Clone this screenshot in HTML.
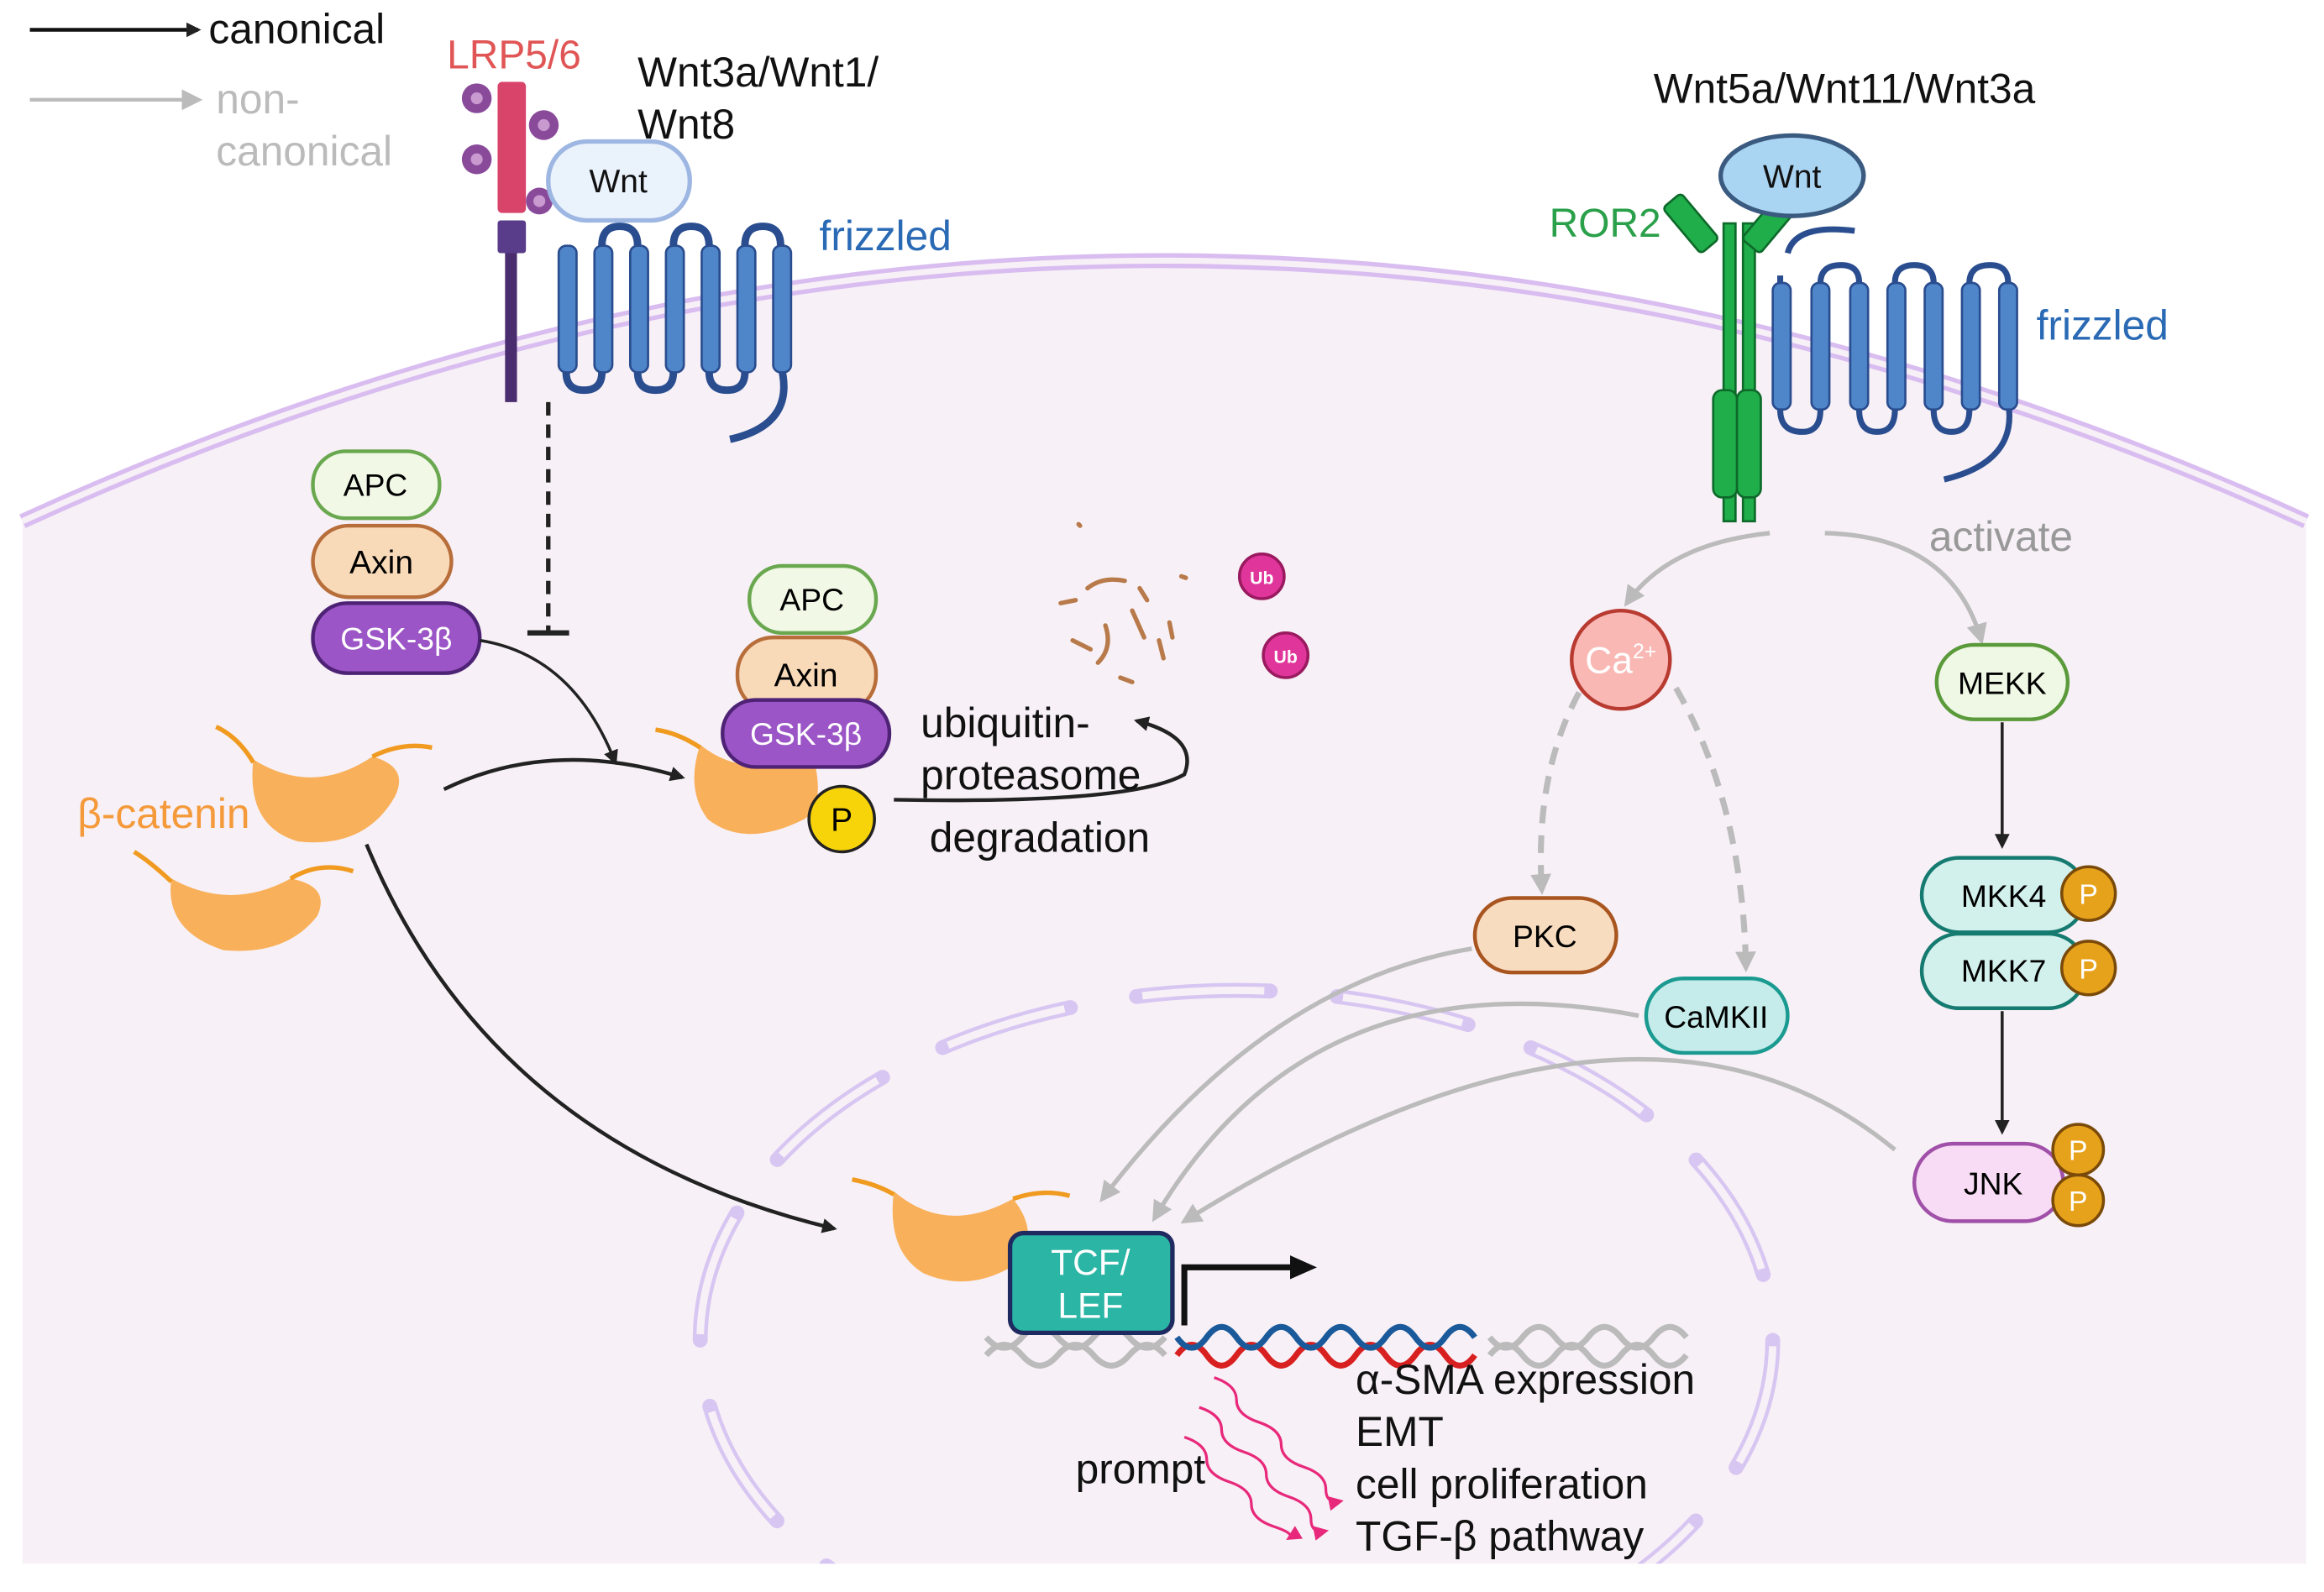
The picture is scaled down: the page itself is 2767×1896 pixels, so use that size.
<!DOCTYPE html>
<html><head><meta charset="utf-8"><style>
html,body{margin:0;padding:0;background:#fff;width:2767px;height:1896px;overflow:hidden}
svg{display:block}
text{font-family:"Liberation Sans",sans-serif}
</style></head><body>
<svg width="2767" height="1896" viewBox="0 0 1560 1069" xmlns="http://www.w3.org/2000/svg">
<defs>
<marker id="ab" markerWidth="10" markerHeight="10" refX="8" refY="5" orient="auto" markerUnits="userSpaceOnUse"><path d="M0,0 L10,5 L0,10 z" fill="#222"/></marker>
<marker id="ag" markerWidth="14" markerHeight="14" refX="11" refY="7" orient="auto" markerUnits="userSpaceOnUse"><path d="M0,0 L14,7 L0,14 z" fill="#bbb"/></marker>
<marker id="ap" markerWidth="10" markerHeight="10" refX="8" refY="5" orient="auto" markerUnits="userSpaceOnUse"><path d="M0,0 L10,5 L0,10 z" fill="#e8287a"/></marker>
<marker id="abig" markerWidth="20" markerHeight="20" refX="4" refY="10" orient="auto" markerUnits="userSpaceOnUse"><path d="M0,2 L18,10 L0,18 z" fill="#111"/></marker>
</defs>
<path d="M15,350 Q780,0 1548,350 L1548,1050 L15,1050 z" fill="#f7f0f6"/>
<path d="M15,350 Q780,0 1548,350" fill="none" stroke="#d9bdf0" stroke-width="10"/>
<path d="M15,350 Q780,0 1548,350" fill="none" stroke="#f7f0f6" stroke-width="4"/>
<ellipse cx="830" cy="900" rx="360" ry="235" fill="none" stroke="#d8c6f2" stroke-width="10" stroke-dasharray="90 45" stroke-linecap="round"/>
<ellipse cx="830" cy="900" rx="360" ry="235" fill="none" stroke="#f7f0f6" stroke-width="5" stroke-dasharray="82 53" stroke-dashoffset="-4"/>
<rect x="0" y="1050" width="1560" height="19" fill="#fff"/>

<line x1="20" y1="20" x2="133" y2="20" stroke="#111" stroke-width="2.5" marker-end="url(#ab)"/>
<text x="140" y="29" font-size="28" fill="#111">canonical</text>
<line x1="20" y1="67" x2="133" y2="67" stroke="#bbb" stroke-width="2.5" marker-end="url(#ag)"/>
<text x="145" y="76" font-size="28" fill="#bbb">non-</text>
<text x="145" y="111" font-size="28" fill="#bbb">canonical</text>

<text x="300" y="46" font-size="27" fill="#e05555">LRP5/6</text>
<line x1="343" y1="150" x2="343" y2="270" stroke="#4a2d6e" stroke-width="8"/>
<rect x="334" y="55" width="19" height="88" rx="3" fill="#d9446b"/>
<rect x="334" y="148" width="19" height="22" rx="2" fill="#5a3d8a"/>
<g fill="#8a4a9a">
<circle cx="320" cy="66" r="10"/><circle cx="365" cy="84" r="10"/><circle cx="320" cy="107" r="10"/><circle cx="362" cy="135" r="9"/>
</g>
<g fill="#c89ad0"><circle cx="320" cy="66" r="4"/><circle cx="365" cy="84" r="4"/><circle cx="320" cy="107" r="4"/><circle cx="362" cy="135" r="4"/></g>
<text x="428" y="58" font-size="28" fill="#111">Wnt3a/Wnt1/</text>
<text x="428" y="93" font-size="28" fill="#111">Wnt8</text>
<path d="M380,165 L380,250 Q380,262 392,262 Q404,262 404,250 L404,165 Q404,152 416,152 Q428,152 428,165 L428,250 Q428,262 440,262 Q452,262 452,250 L452,165 Q452,152 464,152 Q476,152 476,165 L476,250 Q476,262 488,262 Q500,262 500,250 L500,165 Q500,152 512,152 Q524,152 524,165 L524,245 Q535,285 490,295" fill="none" stroke="#2a4d8f" stroke-width="5"/>
<g fill="#4f86c9" stroke="#2a4d8f" stroke-width="1.5">
<rect x="375" y="165" width="12" height="85" rx="5"/><rect x="399" y="165" width="12" height="85" rx="5"/><rect x="423" y="165" width="12" height="85" rx="5"/><rect x="447" y="165" width="12" height="85" rx="5"/><rect x="471" y="165" width="12" height="85" rx="5"/><rect x="495" y="165" width="12" height="85" rx="5"/><rect x="519" y="165" width="12" height="85" rx="5"/>
</g>
<rect x="368" y="95" width="95" height="53" rx="26" fill="#eaf2fc" stroke="#9db7e2" stroke-width="3"/>
<text x="415" y="129" font-size="22" text-anchor="middle" fill="#111">Wnt</text>
<text x="550" y="168" font-size="28" fill="#2a6ab5">frizzled</text>

<text x="1110" y="69" font-size="28" fill="#111">Wnt5a/Wnt11/Wnt3a</text>
<text x="1040" y="159" font-size="27" fill="#2aa04a">ROR2</text>
<g fill="#1fae4a" stroke="#0e6a2a" stroke-width="1.5">
<rect x="1157" y="150" width="8" height="200"/><rect x="1170" y="150" width="8" height="200"/>
<rect x="1150" y="262" width="16" height="72" rx="6"/><rect x="1166" y="262" width="16" height="72" rx="6"/>
<rect x="1127" y="130" width="16" height="40" rx="3" transform="rotate(-40 1135 150)"/>
<rect x="1180" y="130" width="16" height="40" rx="3" transform="rotate(40 1188 150)"/>
</g>
<path d="M1195,185 L1195,275 Q1195,290 1210,290 Q1222,290 1222,275 L1222,190 Q1222,178 1236,178 Q1248,178 1248,190 L1248,275 Q1248,290 1260,290 Q1272,290 1272,275 L1272,190 Q1272,178 1285,178 Q1298,178 1298,190 L1298,275 Q1298,290 1310,290 Q1322,290 1322,275 L1322,190 Q1322,178 1336,178 Q1348,178 1348,190 L1348,270 Q1355,310 1305,322" fill="none" stroke="#2a4d8f" stroke-width="4"/>
<path d="M1200,170 Q1205,150 1245,155" fill="none" stroke="#2a4d8f" stroke-width="4"/>
<g fill="#4f86c9" stroke="#2a4d8f" stroke-width="1.5">
<rect x="1190" y="190" width="12" height="85" rx="5"/><rect x="1216" y="190" width="12" height="85" rx="5"/><rect x="1242" y="190" width="12" height="85" rx="5"/><rect x="1267" y="190" width="12" height="85" rx="5"/><rect x="1292" y="190" width="12" height="85" rx="5"/><rect x="1317" y="190" width="12" height="85" rx="5"/><rect x="1342" y="190" width="12" height="85" rx="5"/>
</g>
<ellipse cx="1203" cy="118" rx="48" ry="27" fill="#a9d4f2" stroke="#3a5a80" stroke-width="3"/>
<text x="1203" y="126" font-size="22" text-anchor="middle" fill="#111">Wnt</text>
<text x="1367" y="228" font-size="28" fill="#2a6ab5">frizzled</text>

<rect x="210" y="303" width="85" height="45" rx="22" fill="#f1f8e6" stroke="#6aa84f" stroke-width="2.5"/>
<text x="252" y="333" font-size="21" text-anchor="middle">APC</text>
<rect x="210" y="353" width="93" height="48" rx="24" fill="#f8d9b8" stroke="#b86e3a" stroke-width="2.5"/>
<text x="256" y="385" font-size="22" text-anchor="middle">Axin</text>
<rect x="210" y="405" width="112" height="47" rx="23" fill="#9b55c6" stroke="#4e2275" stroke-width="2.5"/>
<text x="266" y="436" font-size="21" text-anchor="middle" fill="#fff">GSK-3β</text>
<line x1="368" y1="270" x2="368" y2="424" stroke="#222" stroke-width="3" stroke-dasharray="9 6"/>
<line x1="354" y1="425" x2="382" y2="425" stroke="#222" stroke-width="3.5"/>
<path d="M322,430 Q385,440 413,512" fill="none" stroke="#222" stroke-width="2" marker-end="url(#ab)"/>

<g fill="#f9b05a">
<path d="M170,510 Q210,535 250,508 Q275,515 265,535 Q245,570 200,565 Q165,555 170,510z"/>
<path d="M115,590 Q155,612 195,590 Q222,595 213,615 Q192,642 150,638 Q110,625 115,590z"/>
<path d="M470,500 Q500,525 545,505 Q555,540 540,550 Q500,570 475,550 Q460,530 470,500z"/>
<path d="M600,800 Q635,830 680,805 Q700,830 680,850 Q650,868 620,855 Q595,840 600,800z"/>
</g>
<g fill="none" stroke="#f09a20" stroke-width="3">
<path d="M170,512 Q160,495 145,488"/><path d="M250,508 Q270,498 290,502"/>
<path d="M115,592 Q100,578 90,572"/><path d="M195,590 Q215,578 237,585"/>
<path d="M470,502 Q455,492 440,490"/>
<path d="M600,802 Q588,795 572,792"/><path d="M680,805 Q700,798 718,803"/>
</g>
<text x="52" y="556" font-size="28" fill="#f59a3a">β-catenin</text>
<path d="M298,530 Q370,495 458,522" fill="none" stroke="#222" stroke-width="2.5" marker-end="url(#ab)"/>
<path d="M246,567 Q330,770 560,825" fill="none" stroke="#222" stroke-width="2.5" marker-end="url(#ab)"/>

<rect x="503" y="380" width="85" height="45" rx="22" fill="#f1f8e6" stroke="#6aa84f" stroke-width="2.5"/>
<text x="545" y="410" font-size="21" text-anchor="middle">APC</text>
<rect x="495" y="428" width="93" height="50" rx="24" fill="#f8d9b8" stroke="#b86e3a" stroke-width="2.5"/>
<text x="541" y="461" font-size="22" text-anchor="middle">Axin</text>
<rect x="485" y="470" width="112" height="45" rx="22" fill="#9b55c6" stroke="#4e2275" stroke-width="2.5"/>
<text x="541" y="500" font-size="21" text-anchor="middle" fill="#fff">GSK-3β</text>
<circle cx="565" cy="550" r="22" fill="#f7d40a" stroke="#222" stroke-width="2"/>
<text x="565" y="558" font-size="22" text-anchor="middle">P</text>
<path d="M600,537 Q760,540 795,520 Q805,495 763,484" fill="none" stroke="#222" stroke-width="2.5" marker-end="url(#ab)"/>
<text x="618" y="495" font-size="28" fill="#111">ubiquitin-</text>
<text x="618" y="530" font-size="28" fill="#111">proteasome</text>
<text x="624" y="572" font-size="28" fill="#111">degradation</text>
<g stroke="#b87a4a" stroke-width="3" fill="none" stroke-linecap="round">
<path d="M712,405 l10,-2"/><path d="M730,395 q10,-8 25,-5"/><path d="M742,420 q5,15 -5,25"/><path d="M760,410 l8,18"/><path d="M778,430 l3,12"/><path d="M785,418 l2,10"/><path d="M720,430 l12,6"/><path d="M752,455 l8,3"/><path d="M765,395 l5,8"/><path d="M793,387 l3,1"/><path d="M724,352 l1,1"/>
</g>
<circle cx="847" cy="387" r="15" fill="#e0359a" stroke="#9a1a60" stroke-width="2"/>
<text x="847" y="392" font-size="12" font-weight="bold" text-anchor="middle" fill="#fff">Ub</text>
<circle cx="863" cy="440" r="15" fill="#e0359a" stroke="#9a1a60" stroke-width="2"/>
<text x="863" y="445" font-size="12" font-weight="bold" text-anchor="middle" fill="#fff">Ub</text>

<path d="M1188,358 Q1120,365 1092,405" fill="none" stroke="#bbb" stroke-width="3" marker-end="url(#ag)"/>
<path d="M1225,358 Q1310,360 1330,430" fill="none" stroke="#bbb" stroke-width="3" marker-end="url(#ag)"/>
<text x="1295" y="370" font-size="28" fill="#999">activate</text>
<circle cx="1088" cy="443" r="33" fill="#f9b8b4" stroke="#b83a30" stroke-width="2.5"/>
<text x="1088" y="452" font-size="25" text-anchor="middle" fill="#fff">Ca<tspan font-size="14" dy="-10">2+</tspan></text>
<path d="M1060,465 Q1030,520 1035,598" fill="none" stroke="#bbb" stroke-width="4" stroke-dasharray="12 8" marker-end="url(#ag)"/>
<path d="M1125,462 Q1170,540 1172,650" fill="none" stroke="#bbb" stroke-width="4" stroke-dasharray="12 8" marker-end="url(#ag)"/>
<rect x="990" y="603" width="95" height="50" rx="25" fill="#f8dcc0" stroke="#a8551f" stroke-width="2.5"/>
<text x="1037" y="636" font-size="21" text-anchor="middle">PKC</text>
<rect x="1105" y="657" width="95" height="50" rx="25" fill="#c5ecea" stroke="#1a9a90" stroke-width="2.5"/>
<text x="1152" y="690" font-size="21" text-anchor="middle">CaMKII</text>
<rect x="1300" y="433" width="88" height="50" rx="25" fill="#eef8e4" stroke="#5a9a3a" stroke-width="2.5"/>
<text x="1344" y="466" font-size="21" text-anchor="middle">MEKK</text>
<line x1="1344" y1="485" x2="1344" y2="568" stroke="#222" stroke-width="2" marker-end="url(#ab)"/>
<rect x="1290" y="576" width="110" height="50" rx="25" fill="#d2f0ec" stroke="#157a70" stroke-width="2.5"/>
<text x="1345" y="609" font-size="21" text-anchor="middle">MKK4</text>
<rect x="1290" y="627" width="110" height="50" rx="25" fill="#d2f0ec" stroke="#157a70" stroke-width="2.5"/>
<text x="1345" y="659" font-size="21" text-anchor="middle">MKK7</text>
<line x1="1344" y1="679" x2="1344" y2="760" stroke="#222" stroke-width="2" marker-end="url(#ab)"/>
<rect x="1285" y="768" width="100" height="52" rx="26" fill="#f8dcf5" stroke="#a050a8" stroke-width="2.5"/>
<text x="1338" y="802" font-size="21" text-anchor="middle">JNK</text>
<g fill="#e7a21b" stroke="#7a4a0a" stroke-width="2">
<circle cx="1402" cy="600" r="18"/><circle cx="1402" cy="650" r="18"/><circle cx="1395" cy="772" r="17"/><circle cx="1395" cy="806" r="17"/>
</g>
<g font-size="19" text-anchor="middle" fill="#fff"><text x="1402" y="607">P</text><text x="1402" y="657">P</text><text x="1395" y="779">P</text><text x="1395" y="813">P</text></g>
<path d="M988,637 Q850,660 740,805" fill="none" stroke="#bbb" stroke-width="3" marker-end="url(#ag)"/>
<path d="M1100,682 Q880,640 775,818" fill="none" stroke="#bbb" stroke-width="3" marker-end="url(#ag)"/>
<path d="M1272,772 Q1100,630 795,820" fill="none" stroke="#bbb" stroke-width="3" marker-end="url(#ag)"/>

<g fill="none" stroke-width="4">
<path d="M662,910 q12,-14 24,0 t24,0 t24,0 t24,0 t24,0" stroke="#bbb"/>
<path d="M662,898 q12,14 24,0 t24,0 t24,0 t24,0 t24,0" stroke="#bbb"/>
<path d="M790,910 q10,-14 20,0 t20,0 t20,0 t20,0 t20,0 t20,0 t20,0 t20,0 t20,0 t20,0" stroke="#d82020"/>
<path d="M790,898 q10,14 20,0 t20,0 t20,0 t20,0 t20,0 t20,0 t20,0 t20,0 t20,0 t20,0" stroke="#1a5a9a"/>
<path d="M1000,910 q11,-14 22,0 t22,0 t22,0 t22,0 t22,0 t22,0" stroke="#bbb"/>
<path d="M1000,898 q11,14 22,0 t22,0 t22,0 t22,0 t22,0 t22,0" stroke="#bbb"/>
</g>
<rect x="678" y="828" width="109" height="67" rx="9" fill="#2ab5a5" stroke="#1f2a60" stroke-width="3"/>
<text x="732" y="856" font-size="24" text-anchor="middle" fill="#fff">TCF/</text>
<text x="732" y="885" font-size="24" text-anchor="middle" fill="#fff">LEF</text>
<path d="M795,890 L795,851 L870,851" fill="none" stroke="#111" stroke-width="4" marker-end="url(#abig)"/>
<g fill="none" stroke="#e8287a" stroke-width="1.8">
<path d="M815,925 q15,5 15,15 t15,15 t15,15 t15,15 t15,15 t10,8" marker-end="url(#ap)"/>
<path d="M805,945 q15,5 15,15 t15,15 t15,15 t15,15 t15,15 t10,8" marker-end="url(#ap)"/>
<path d="M795,965 q15,5 15,15 t15,15 t15,15 t15,15 t10,8" marker-end="url(#ap)"/>
</g>
<g font-size="28" fill="#111">
<text x="910" y="936">α-SMA expression</text>
<text x="910" y="971">EMT</text>
<text x="910" y="1006">cell proliferation</text>
<text x="910" y="1041">TGF-β pathway</text>
<text x="722" y="996">prompt</text>
</g>
</svg>
</body></html>
